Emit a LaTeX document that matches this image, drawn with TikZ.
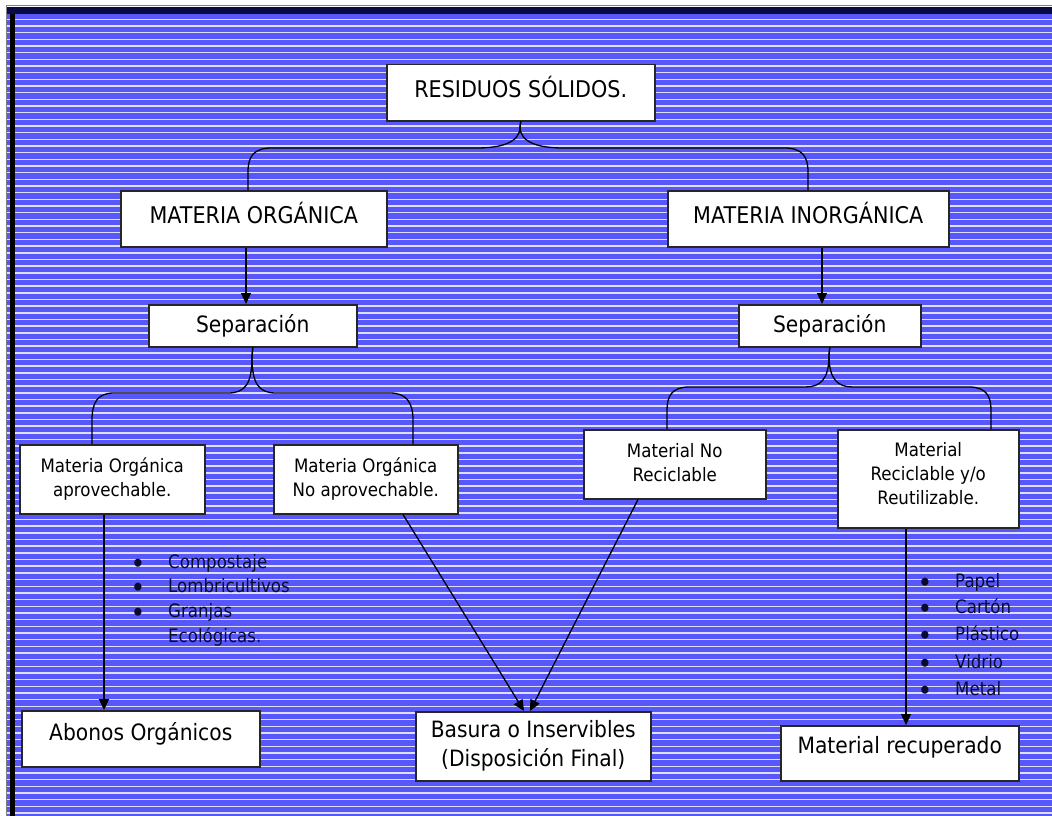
\documentclass[tikz,border=0pt]{standalone}
\usepackage{fontspec}
\setmainfont{DejaVu Sans}[FakeStretch=0.9]
\usetikzlibrary{arrows.meta}
\definecolor{bgblue}{RGB}{88,88,250}
\definecolor{stripe}{RGB}{222,222,255}
\definecolor{navyband}{RGB}{10,10,70}
\definecolor{itemtext}{RGB}{10,10,45}
\newcommand{\bigbullet}{\makebox[37.5pt][l]{\raisebox{-5.5pt}{\scalebox{1.5}{\textbullet}}}}
\begin{document}
\begin{tikzpicture}[x=1pt,y=-1pt,
  box/.style={draw=black!85, line width=1.5pt, fill=white, anchor=north west, inner sep=0pt, align=center, text=black},
  big/.style={font=\fontsize{23}{27}\selectfont},
  mid/.style={font=\fontsize{22.5}{29}\selectfont},
  small/.style={font=\fontsize{18.5}{24}\selectfont},
  conn/.style={line width=1.3pt, black},
  arr/.style={conn, -{Triangle[length=11pt,width=10pt]}},
  item/.style={anchor=base west, inner sep=0pt, font=\fontsize{18.5}{22}\selectfont, text=itemtext}]
\useasboundingbox (0,0) rectangle (1052,816);
% background
\fill[white] (0,0) rectangle (1052,816);
\fill[bgblue] (7,7) rectangle (1052,816);
\foreach \i in {0,...,119} \draw[stripe, line width=1.5pt] (7,{19.3+6.67*\i}) -- (1052,{19.3+6.67*\i});
\fill[black] (10,7) rectangle (14.5,816);
\fill[navyband] (7,7) rectangle (1052,14.5);
\draw[gray, line width=1pt] (6,816) -- (6,6) -- (1052,6);

% boxes
\node[box, big, minimum width=268pt, minimum height=56pt, text depth=12pt] (res) at (386,64) {RESIDUOS SÓLIDOS.};
\node[box, big, minimum width=266pt, minimum height=56pt, text depth=12pt] (mo) at (120,190) {MATERIA ORGÁNICA};
\node[box, big, minimum width=281pt, minimum height=56pt, text depth=12pt] (mi) at (667,190) {MATERIA INORGÁNICA};
\node[box, mid, minimum width=208pt, minimum height=42pt] (lsep) at (148,304) {Separación};
\node[box, mid, minimum width=182pt, minimum height=42pt] (rsep) at (738,304) {Separación};
\node[box, small, minimum width=185pt, minimum height=69pt] (apr) at (19,444) {Materia Orgánica\\aprovechable.};
\node[box, small, minimum width=184pt, minimum height=69pt] (noap) at (273,444) {Materia Orgánica\\No aprovechable.};
\node[box, small, minimum width=182pt, minimum height=69pt, text depth=4pt] (nrec) at (583,429) {Material No\\Reciclable};
\node[box, small, minimum width=181pt, minimum height=98pt, text depth=10pt] (rec) at (837,429) {Material\\Reciclable y/o\\Reutilizable.};
\node[box, mid, minimum width=238pt, minimum height=56pt, text depth=15pt] (abo) at (21,710) {Abonos Orgánicos};
\node[box, mid, minimum width=235pt, minimum height=69pt] (bas) at (415,711) {Basura o Inservibles\\(Disposición Final)};
\node[box, mid, minimum width=238pt, minimum height=55pt, text depth=17pt] (recu) at (780,725) {Material recuperado};

% helper x positions
\coordinate (tl) at (248,0);
\coordinate (tr) at (808,0);
\coordinate (a1) at (246,0);
\coordinate (a2) at (822,0);
\coordinate (b1) at (92,0);
\coordinate (b2) at (413,0);
\coordinate (c1) at (667,0);
\coordinate (c2) at (991,0);
\coordinate (d1) at (104,0);
\coordinate (d2) at (403,0);
\coordinate (d3) at (524,0);
\coordinate (d4) at (638,0);
\coordinate (d6) at (530,0);
\coordinate (d5) at (906,0);

% top brace
\draw[conn] (res.south) -- (520,127) .. controls (520,143) and (500,148) .. (477,148) -- (272,148)
  .. controls (254,148) and (248,156) .. (248,172) -- (mo.north -| tl);
\draw[conn] (res.south) -- (520,127) .. controls (520,143) and (540,148) .. (563,148) -- (784,148)
  .. controls (802,148) and (808,156) .. (808,172) -- (mi.north -| tr);

% down arrows
\draw[arr] (mo.south -| a1) -- (lsep.north -| a1);
\draw[arr] (mi.south -| a2) -- (rsep.north -| a2);

% left lower brace
\draw[conn] (lsep.south) -- (252,357) .. controls (252,384) and (245,393) .. (228,393) -- (114,393)
  .. controls (98,393) and (92,402) .. (92,420) -- (apr.north -| b1);
\draw[conn] (lsep.south) -- (252,357) .. controls (252,384) and (259,393) .. (276,393) -- (390,393)
  .. controls (406,393) and (413,402) .. (413,420) -- (noap.north -| b2);

% right lower brace
\draw[conn] (rsep.south) -- (829,355) .. controls (829,380) and (820,387) .. (805,387) -- (689,387)
  .. controls (672,387) and (667,396) .. (667,410) -- (nrec.north -| c1);
\draw[conn] (rsep.south) -- (829,355) .. controls (829,380) and (838,387) .. (853,387) -- (969,387)
  .. controls (986,387) and (991,396) .. (991,410) -- (rec.north -| c2);

% bottom arrows
\draw[arr] (apr.south -| d1) -- (abo.north -| d1);
\draw[arr] (noap.south -| d2) -- (bas.north -| d3);
\draw[arr] (nrec.south -| d4) -- (bas.north -| d6);
\draw[arr] (rec.south -| d5) -- (recu.north -| d5);

% bullet lists
\node[item] (i1) at (130.5,568) {\bigbullet Compostaje};
\node[item] (i2) at (130.5,592) {\bigbullet Lombricultivos};
\node[item] (i3) at (130.5,617) {\bigbullet Granjas};
\node[item] (i4) at (168,642) {Ecológicas.};
\node[item] (j1) at (917.5,587) {\bigbullet Papel};
\node[item] (j2) at (917.5,613) {\bigbullet Cartón};
\node[item] (j3) at (917.5,640) {\bigbullet Plástico};
\node[item] (j4) at (917.5,668) {\bigbullet Vidrio};
\node[item] (j5) at (917.5,695) {\bigbullet Metal};
\end{tikzpicture}
\end{document}
